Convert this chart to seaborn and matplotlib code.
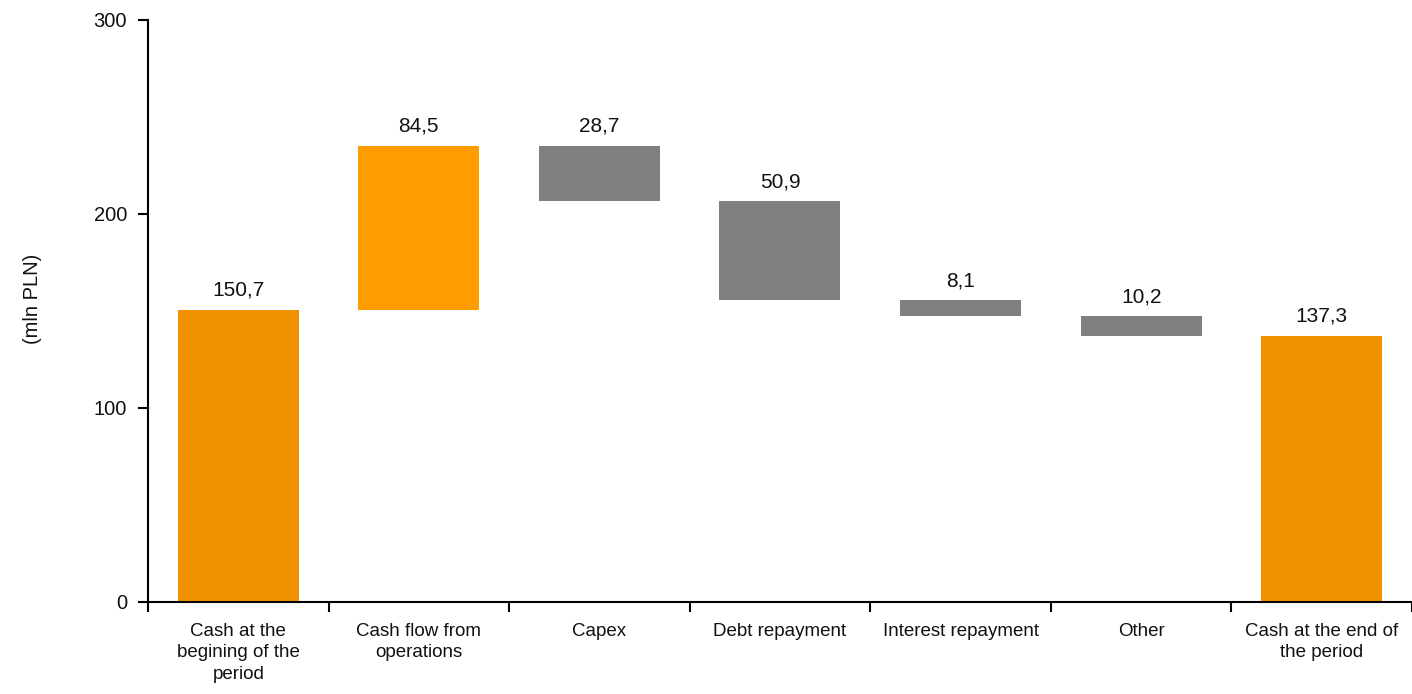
import matplotlib
matplotlib.use("Agg")
import matplotlib.pyplot as plt
import seaborn as sns
import numpy as np

categories = ["Cash at the\nbegining of the\nperiod", "Cash flow from\noperations", "Capex",
              "Debt repayment", "Interest repayment", "Other", "Cash at the end of\nthe period"]
values = [150.7, 84.5, -28.7, -50.9, -8.1, -10.2, 137.3]
labels = ["150,7", "84,5", "28,7", "50,9", "8,1", "10,2", "137,3"]
kinds = ["total", "up", "down", "down", "down", "down", "total"]
colors = {"total": "#F29100", "up": "#FF9C00", "down": "#808080"}

sns.set_theme(style="white")
plt.rcParams['font.family'] = ['Liberation Sans', 'DejaVu Sans']

# waterfall bottoms/heights
bottoms, heights = [], []
run = 0.0
for v, k in zip(values, kinds):
    if k == "total":
        bottoms.append(0.0); heights.append(v); run = v
    elif v >= 0:
        bottoms.append(run); heights.append(v); run += v
    else:
        run += v
        bottoms.append(run); heights.append(-v)

fig = plt.figure(figsize=(14.12, 6.94), dpi=100)
ax = fig.add_axes([0.1048, 0.1326, 0.8952, 0.8386])

for cat, h, b, k in zip(categories, heights, bottoms, kinds):
    sns.barplot(x=[cat], y=[h], bottom=b, order=categories, color=colors[k],
                width=0.67, saturation=1, ax=ax, linewidth=0)

for i, (h, b, lab) in enumerate(zip(heights, bottoms, labels)):
    ax.annotate(lab, (i, b + h), xytext=(0, 7), textcoords="offset points",
                ha="center", va="bottom", fontsize=15, color="#111111")

ax.set_ylim(0, 300)
ax.set_xlim(-0.5, 6.5)
ax.set_yticks([0, 100, 200, 300])
ax.set_ylabel("(mln PLN)", fontsize=14.5, color="#111111")
ax.yaxis.set_label_coords(-0.084, 0.52)
ax.set_xlabel("")
sns.despine(ax=ax, top=True, right=True)
for s in ["left", "bottom"]:
    ax.spines[s].set_color("black")
    ax.spines[s].set_linewidth(1.5)

ax.tick_params(axis="y", which="major", left=True, length=7, width=1.5, color="black",
               labelsize=14.5, pad=8, labelcolor="#111111")
ax.tick_params(axis="x", which="major", bottom=False, length=0, labelsize=13.5, pad=15,
               labelcolor="#111111")
for t in ax.get_xticklabels():
    t.set_linespacing(1.35)
ax.set_xticks(np.arange(-0.5, 7.0, 1.0), minor=True)
ax.tick_params(axis="x", which="minor", bottom=True, length=7, width=1.5, color="black")

fig.savefig("out.png", dpi=100)
